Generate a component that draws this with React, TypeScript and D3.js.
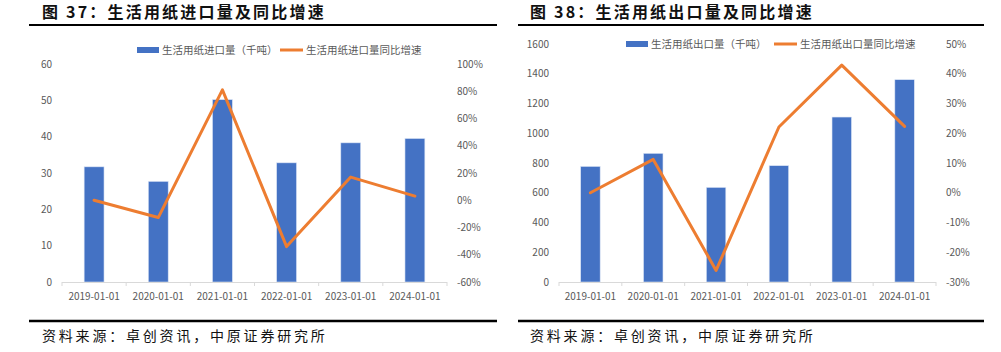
import * as React from "react";
import * as d3 from "d3";

const years = ["2019-01-01", "2020-01-01", "2021-01-01", "2022-01-01", "2023-01-01", "2024-01-01"];

// 图37 进口
const importVolume = [31.7, 27.7, 50.2, 32.8, 38.3, 39.5];
const importYoY = [0.0, -0.127, 0.81, -0.34, 0.17, 0.03];
const importYTicks = [0, 10, 20, 30, 40, 50, 60];
const importY2Ticks = [-0.6, -0.4, -0.2, 0, 0.2, 0.4, 0.6, 0.8, 1.0];

// 图38 出口
const exportVolume = [777, 865, 636, 782, 1109, 1360];
const exportYoY = [0.0, 0.112, -0.261, 0.221, 0.429, 0.223];
const exportYTicks = [0, 200, 400, 600, 800, 1000, 1200, 1400, 1600];
const exportY2Ticks = [-0.3, -0.2, -0.1, 0, 0.1, 0.2, 0.3, 0.4, 0.5];

const BLUE = "#4472C4";
const ORANGE = "#ED7D31";
const GREY = "#595959";
const AXIS = "#d9d9d9";
const CJK = "'Noto Sans CJK SC', 'Noto Sans', sans-serif";

interface PanelProps {
  title: string;
  lineX: [number, number];
  titleX: number;
  plot: { left: number; right: number; top: number; bottom: number };
  bars: number[];
  rates: number[];
  yTicks: number[];
  y2Ticks: number[];
  barLabel: string;
  lineLabel: string;
  legend: { rectX: number; lineX: number; y: number };
}

function Panel({ title, lineX, titleX, plot, bars, rates, yTicks, y2Ticks, barLabel, lineLabel, legend }: PanelProps) {
  const x = d3
    .scaleBand<string>()
    .domain(years)
    .range([plot.left, plot.right])
    .paddingInner(0.69)
    .paddingOuter(0.345);
  const y = d3
    .scaleLinear()
    .domain([yTicks[0], yTicks[yTicks.length - 1]])
    .range([plot.bottom, plot.top]);
  const y2 = d3
    .scaleLinear()
    .domain([y2Ticks[0], y2Ticks[y2Ticks.length - 1]])
    .range([plot.bottom, plot.top]);
  const step = x.step();
  const cx = (d: string) => (x(d) ?? 0) + x.bandwidth() / 2;

  const line = d3
    .line<number>()
    .x((_, i) => cx(years[i]))
    .y((v) => y2(v));

  const fmtPct = (v: number) => `${Math.round(v * 100)}%`;

  return (
    <g>
      {/* title */}
      <text x={titleX} y={18} fontFamily={CJK} fontSize={16} fontWeight={700} letterSpacing={2.2} fill="#111">
        {title}
      </text>
      <line x1={lineX[0]} x2={lineX[1]} y1={25} y2={25} stroke="#000" strokeWidth={2} />

      {/* legend */}
      <rect x={legend.rectX} y={legend.y - 3} width={22} height={6} fill={BLUE} />
      <text x={legend.rectX + 25} y={legend.y + 4} fontFamily={CJK} fontSize={10.5} fill={GREY}>
        {barLabel}
      </text>
      <line x1={legend.lineX} x2={legend.lineX + 23} y1={legend.y} y2={legend.y} stroke={ORANGE} strokeWidth={3} />
      <text x={legend.lineX + 26} y={legend.y + 4} fontFamily={CJK} fontSize={10.5} fill={GREY}>
        {lineLabel}
      </text>

      {/* left axis labels */}
      {yTicks.map((t) => (
        <text key={`y-${t}`} x={plot.left - 10} y={y(t)} dy="0.35em" textAnchor="end" fontFamily={CJK} fontSize={10} fill={GREY}>
          {t}
        </text>
      ))}
      {/* right axis labels */}
      {y2Ticks.map((t) => (
        <text key={`y2-${t}`} x={plot.right + 10} y={y2(t)} dy="0.35em" textAnchor="start" fontFamily={CJK} fontSize={10} fill={GREY}>
          {fmtPct(t)}
        </text>
      ))}

      {/* bars */}
      {bars.map((v, i) => (
        <rect
          key={`b-${years[i]}`}
          x={x(years[i])}
          y={y(v)}
          width={x.bandwidth()}
          height={plot.bottom - y(v)}
          fill={BLUE}
          stroke="#dbe4f5"
          strokeWidth={0.6}
        />
      ))}

      {/* x axis */}
      <line x1={plot.left} x2={plot.right} y1={plot.bottom + 0.5} y2={plot.bottom + 0.5} stroke={AXIS} strokeWidth={1} />
      {d3.range(years.length + 1).map((i) => (
        <line
          key={`tk-${i}`}
          x1={plot.left + i * step}
          x2={plot.left + i * step}
          y1={plot.bottom}
          y2={plot.bottom + 4}
          stroke={AXIS}
        />
      ))}
      {years.map((d) => (
        <text key={`x-${d}`} x={cx(d)} y={plot.bottom + 18} textAnchor="middle" fontFamily={CJK} fontSize={10} fill={GREY}>
          {d}
        </text>
      ))}

      {/* yoy line */}
      <path d={line(rates) ?? ""} fill="none" stroke={ORANGE} strokeWidth={3} strokeLinejoin="round" strokeLinecap="round" />

      {/* footer */}
      <line x1={lineX[0]} x2={lineX[1]} y1={321} y2={321} stroke="#000" strokeWidth={2.6} />
      <text x={titleX} y={341} fontFamily={CJK} fontSize={14} letterSpacing={2.8} fill="#111">
        资料来源：卓创资讯，中原证券研究所
      </text>
    </g>
  );
}

export default function App() {
  return (
    <svg width={1001} height={352} style={{ position: "absolute", left: 0, top: 0, background: "#fff" }}>
      <rect width={1001} height={352} fill="#fff" />
      <Panel
        title="图 37：生活用纸进口量及同比增速"
        titleX={42}
        lineX={[29, 497]}
        plot={{ left: 62, right: 447, top: 64, bottom: 282 }}
        bars={importVolume}
        rates={importYoY}
        yTicks={importYTicks}
        y2Ticks={importY2Ticks}
        barLabel="生活用纸进口量（千吨）"
        lineLabel="生活用纸进口量同比增速"
        legend={{ rectX: 137, lineX: 280, y: 50 }}
      />
      <Panel
        title="图 38：生活用纸出口量及同比增速"
        titleX={530}
        lineX={[518, 984]}
        plot={{ left: 559, right: 936, top: 44, bottom: 282 }}
        bars={exportVolume}
        rates={exportYoY}
        yTicks={exportYTicks}
        y2Ticks={exportY2Ticks}
        barLabel="生活用纸出口量（千吨）"
        lineLabel="生活用纸出口量同比增速"
        legend={{ rectX: 626, lineX: 774, y: 44 }}
      />
    </svg>
  );
}
